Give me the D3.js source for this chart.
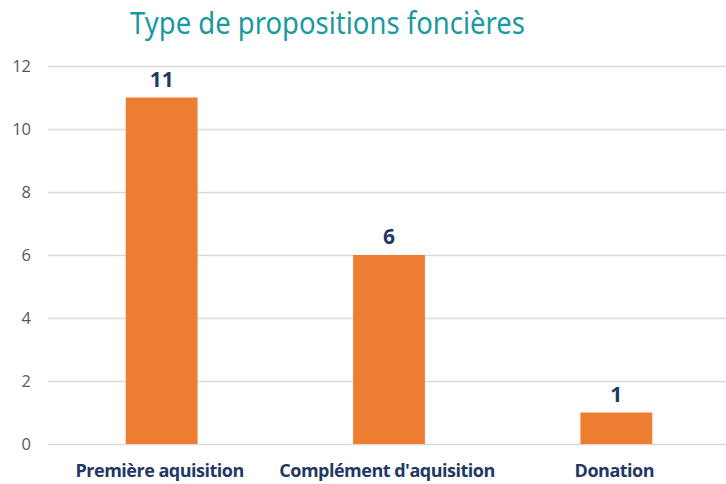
<!DOCTYPE html>
<html>
<head>
<meta charset="utf-8">
<script src="https://cdn.jsdelivr.net/npm/d3@7"></script>
<style>
  body { margin: 0; background: #fff; }
  .tick text { font-family: "Open Sans", sans-serif; font-size: 16.5px; fill: #595959; }
</style>
</head>
<body>
<div class="chart"></div>
<script>
var categories = ["Première aquisition", "Complément d'aquisition", "Donation"];
var values = [11, 6, 1];
var yTicks = [0, 2, 4, 6, 8, 10, 12];

var svgWidth = 726;
var svgHeight = 484;

var margin = { top: 66, right: -4, bottom: 40, left: 48 };
var width = svgWidth - margin.left - margin.right;
var height = svgHeight - margin.top - margin.bottom;

var svg = d3.select(".chart")
  .append("svg")
  .attr("width", svgWidth)
  .attr("height", svgHeight);

var chartGroup = svg.append("g")
  .attr("transform", `translate(${margin.left}, ${margin.top})`);

var data = categories.map((c, i) => ({ name: c, value: values[i] }));

var xScale = d3.scaleBand()
  .domain(categories)
  .range([0, width])
  .paddingInner(0.684)
  .paddingOuter(0.342);

var yScale = d3.scaleLinear()
  .domain([0, 12])
  .range([height, 0]);

// gridlines + tick labels
var leftAxis = d3.axisLeft(yScale)
  .tickValues(yTicks)
  .tickSize(-width)
  .tickPadding(17);

chartGroup.append("g")
  .call(leftAxis)
  .call(g => g.select(".domain").remove())
  .call(g => g.selectAll(".tick line").attr("stroke", "#d9d9d9").attr("stroke-width", 1.5));

// bars
chartGroup.selectAll("rect")
  .data(data)
  .enter()
  .append("rect")
  .attr("x", d => xScale(d.name))
  .attr("y", d => yScale(d.value))
  .attr("width", xScale.bandwidth())
  .attr("height", d => height - yScale(d.value))
  .attr("fill", "#ED7D31");

// value labels
chartGroup.selectAll(".val")
  .data(data)
  .enter()
  .append("text")
  .attr("class", "val")
  .attr("x", d => xScale(d.name) + xScale.bandwidth() / 2)
  .attr("y", d => yScale(d.value) - 11)
  .attr("text-anchor", "middle")
  .attr("font-family", "'Open Sans', sans-serif")
  .attr("font-weight", "bold")
  .attr("font-size", "21px")
  .attr("fill", "#1F3864")
  .text(d => d.value);

// category labels
chartGroup.selectAll(".cat")
  .data(data)
  .enter()
  .append("text")
  .attr("class", "cat")
  .attr("x", d => xScale(d.name) + xScale.bandwidth() / 2 - 2)
  .attr("y", height + 33)
  .attr("text-anchor", "middle")
  .attr("font-family", "'Open Sans', sans-serif")
  .attr("font-weight", "bold")
  .attr("font-size", "18px")
  .attr("letter-spacing", "-0.5px")
  .attr("fill", "#1F3864")
  .text(d => d.name);

// title (condensed look)
svg.append("text")
  .attr("x", 130)
  .attr("y", 34)
  .attr("font-family", "'Noto Sans', sans-serif")
  .attr("font-size", "31px")
  .attr("textLength", 395)
  .attr("lengthAdjust", "spacingAndGlyphs")
  .attr("fill", "#1A9A9F")
  .text("Type de propositions foncières");
</script>
</body>
</html>
